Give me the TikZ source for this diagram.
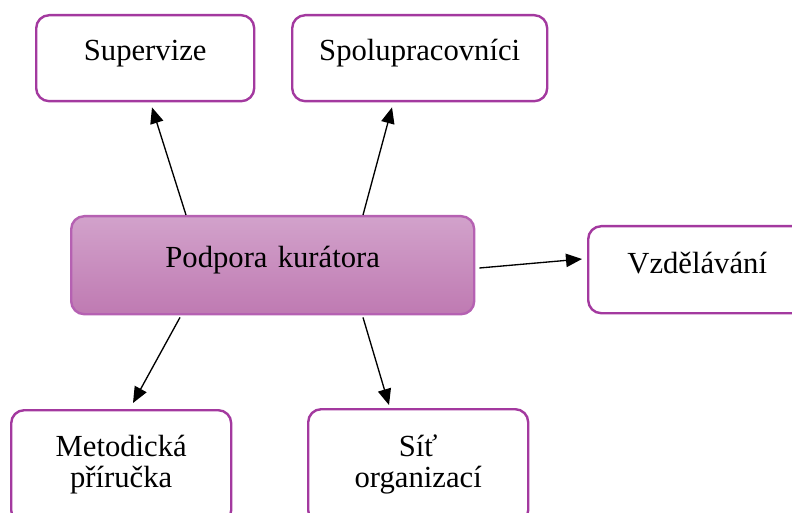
\documentclass[tikz,border=0pt]{standalone}
\usepackage{fontspec}
\setmainfont{Liberation Serif}
\usetikzlibrary{arrows.meta,calc}
\newlength\pxl
\setlength\pxl{0.75pt}
\definecolor{boxline}{HTML}{A3399F}
\definecolor{podtop}{HTML}{D2A2CB}
\definecolor{podbot}{HTML}{BF7AB2}
\tikzset{
  box/.style={draw=boxline,line width=2.4\pxl,rounded corners=13\pxl,
    anchor=north west,inner sep=0pt,align=center,
    font=\fontsize{23}{23.5}\selectfont},
  link/.style={line width=1pt,-{Triangle[length=12pt,width=10pt]}}
}
\begin{document}
\begin{tikzpicture}[x=0.75pt,y=-0.75pt]
\useasboundingbox (0,0) rectangle (792,513);
\clip (0,0) rectangle (792,513);
% boxes
\node (sup) at (35,14) [box,text width=218\pxl,text height=45\pxl,text depth=41\pxl] {Supervize};
\node (spo) at (291,14) [box,text width=255\pxl,text height=45\pxl,text depth=41\pxl] {Spolupracovníci};
\node (pod) at (70,215) [box,top color=podtop,bottom color=podbot,draw=boxline!80,
  text width=403\pxl,text height=51\pxl,text depth=47\pxl] {Podpora kurátora};
\node (vzd) at (587,225) [box,text width=218\pxl,text height=47\pxl,text depth=40\pxl] {Vzdělávání};
\node (met) at (10,409) [box,text width=220\pxl,text height=46\pxl,text depth=67\pxl] {Metodická\\příručka};
\node (sit) at (307,408) [box,text width=220\pxl,text height=47\pxl,text depth=67\pxl] {Síť\\organizací};
% arrows
\draw [link] ($(pod.north west)+(116,0)$) -- ($(sup.south west)+(117,5)$);
\draw [link] ($(pod.north west)+(293,0)$) -- ($(spo.south west)+(101,5)$);
\draw [link] ($(pod.north east)+(4,53)$) -- ($(vzd.north west)+(-5,34)$);
\draw [link] ($(pod.south west)+(110,2)$) -- ($(met.north west)+(123,-6)$);
\draw [link] ($(pod.south west)+(293,2)$) -- ($(sit.north west)+(82,-3)$);
\end{tikzpicture}
\end{document}
